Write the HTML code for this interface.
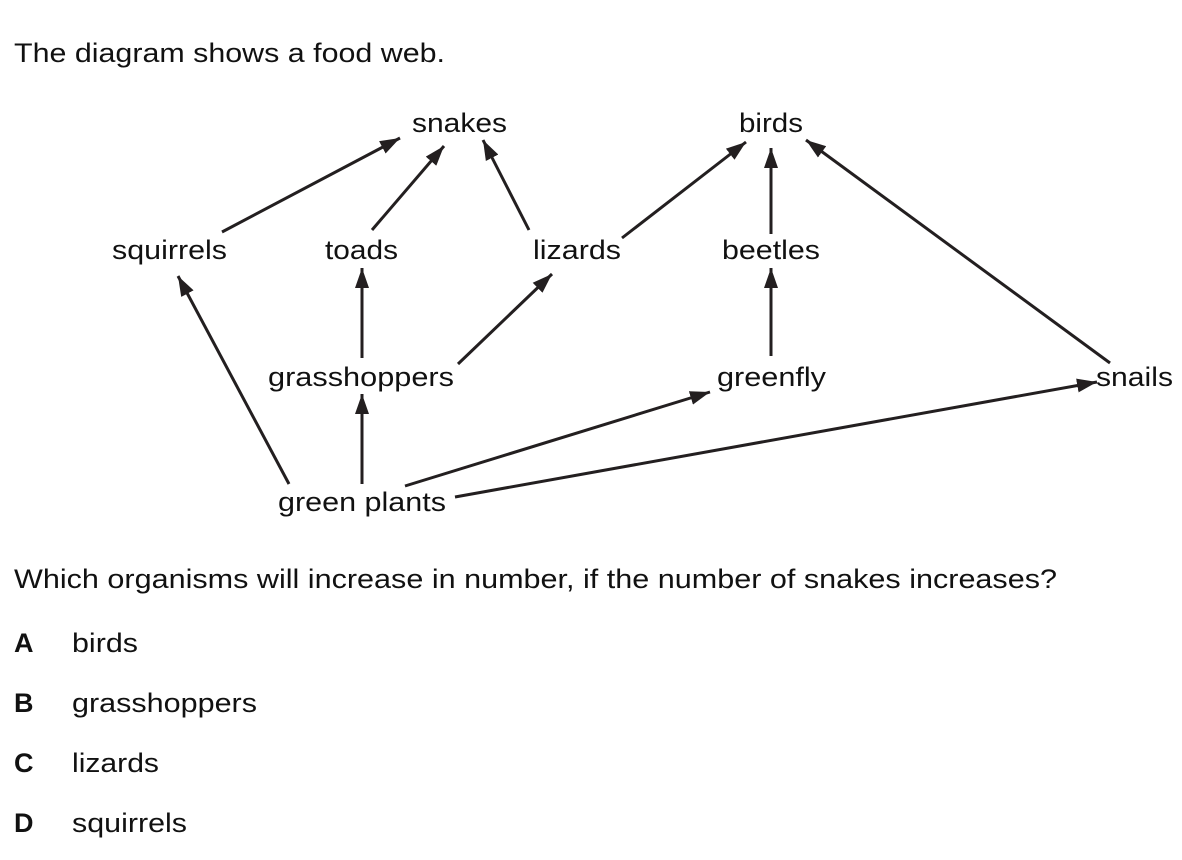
<!DOCTYPE html>
<html><head><meta charset="utf-8"><style>
html,body{margin:0;padding:0;background:#fff;}
body{width:1182px;height:860px;overflow:hidden;position:relative;font-family:"Liberation Sans",Arial,sans-serif;color:#231f20;}
svg{position:absolute;left:0;top:0;}
</style></head><body>
<svg width="1182" height="860" font-family="Liberation Sans, Arial, sans-serif" fill="#111">
<defs><marker id="ah" markerWidth="20" markerHeight="14" refX="20" refY="7" orient="auto" markerUnits="userSpaceOnUse"><path d="M0,0 L20,7 L0,14 z" fill="#231f20"/></marker></defs>
<g font-size="27">
<text x="14" y="62" textLength="431" lengthAdjust="spacingAndGlyphs">The diagram shows a food web.</text>
<text x="412" y="132" textLength="95" lengthAdjust="spacingAndGlyphs">snakes</text>
<text x="739" y="132" textLength="64" lengthAdjust="spacingAndGlyphs">birds</text>
<text x="112" y="259" textLength="115" lengthAdjust="spacingAndGlyphs">squirrels</text>
<text x="325" y="259" textLength="73" lengthAdjust="spacingAndGlyphs">toads</text>
<text x="533" y="259" textLength="88" lengthAdjust="spacingAndGlyphs">lizards</text>
<text x="722" y="259" textLength="98" lengthAdjust="spacingAndGlyphs">beetles</text>
<text x="268" y="386" textLength="186" lengthAdjust="spacingAndGlyphs">grasshoppers</text>
<text x="717" y="386" textLength="109" lengthAdjust="spacingAndGlyphs">greenfly</text>
<text x="1096" y="386" textLength="77" lengthAdjust="spacingAndGlyphs">snails</text>
<text x="278" y="511" textLength="168" lengthAdjust="spacingAndGlyphs">green plants</text>
<text x="14" y="588" textLength="1043" lengthAdjust="spacingAndGlyphs">Which organisms will increase in number, if the number of snakes increases?</text>
<text x="14" y="652" font-weight="bold">A</text>
<text x="72" y="652" textLength="66" lengthAdjust="spacingAndGlyphs">birds</text>
<text x="14" y="712" font-weight="bold">B</text>
<text x="72" y="712" textLength="185" lengthAdjust="spacingAndGlyphs">grasshoppers</text>
<text x="14" y="772" font-weight="bold">C</text>
<text x="72" y="772" textLength="87" lengthAdjust="spacingAndGlyphs">lizards</text>
<text x="14" y="832" font-weight="bold">D</text>
<text x="72" y="832" textLength="115" lengthAdjust="spacingAndGlyphs">squirrels</text>
</g>
<g stroke="#231f20" stroke-width="3" marker-end="url(#ah)" fill="none">
<line x1="222" y1="232" x2="400" y2="138"/>
<line x1="372" y1="230" x2="444" y2="146"/>
<line x1="529" y1="230" x2="483" y2="140"/>
<line x1="622" y1="238" x2="746" y2="142"/>
<line x1="771" y1="234" x2="771" y2="148"/>
<line x1="1110" y1="363" x2="806" y2="140"/>
<line x1="362" y1="358" x2="362" y2="268"/>
<line x1="458" y1="364" x2="552" y2="274"/>
<line x1="771" y1="356" x2="771" y2="268"/>
<line x1="289" y1="484" x2="178" y2="276"/>
<line x1="362" y1="484" x2="362" y2="394"/>
<line x1="405" y1="486" x2="710" y2="392"/>
<line x1="455" y1="497" x2="1097" y2="382"/>
</g>
</svg>
</body></html>
